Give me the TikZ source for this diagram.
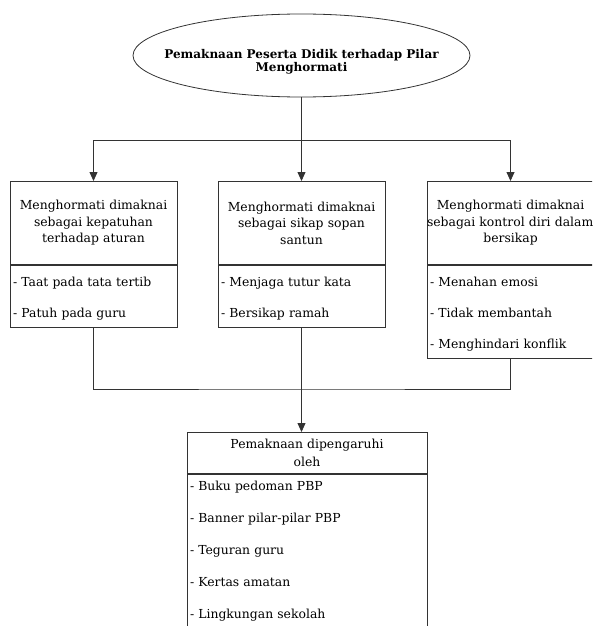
\documentclass[tikz,border=0pt]{standalone}
\usepackage{fontspec}
\setmainfont{DejaVu Serif}
\usetikzlibrary{arrows.meta,positioning,shapes.geometric}

\begin{document}
\begin{tikzpicture}
[x=1pt, y=-1pt, font=\fontsize{12.4}{16.5}\selectfont,
% STYLES
line/.style={draw=black!80, line width=0.8pt},
arrow/.style={line, -{Triangle[width=8pt,length=9pt]}},
% The theme style is used for the ellipse on top
theme/.style={ellipse, draw=black!80, line width=0.8pt, minimum width=337pt, minimum height=83pt, inner sep=0pt},
% The head style is used for the meaning written in each box
head/.style={rectangle, draw=black!80, line width=0.8pt, text width=161pt, minimum width=167pt, minimum height=83pt, inner xsep=3pt, inner ysep=0pt, align=center},
% The items style is used for the list below each head
items/.style={rectangle, draw=black!80, line width=0.8pt, text width=161pt, minimum width=167pt, inner xsep=3pt, inner ysep=0pt, align=left, font=\fontsize{12.4}{31}\selectfont}]

\clip (0,0) rectangle (592,626);

% Draw the theme
\node [theme] (theme) at (301.5,55.5) {};
\node [font=\bfseries\fontsize{12}{13}\selectfont, align=center] (theme-text) at (301.5,62) {Pemaknaan Peserta Didik terhadap Pilar\\ Menghormati};

% Draw the meanings
\node [head, anchor=north] (obey) at (93.5,181) {Menghormati dimaknai\\ sebagai kepatuhan\\ terhadap aturan};
\node [head, anchor=north] (polite) at (301.5,181) {Menghormati dimaknai\\ sebagai sikap sopan\\ santun};
\node [head, anchor=north] (control) at (510.5,181) {Menghormati dimaknai\\ \hspace*{-3pt}\mbox{sebagai kontrol diri dalam}\\ bersikap};

%%%%%%%%%%%%%%%
% Lists of each meaning
\node [items, below=0pt of obey] (obey-list) {\strut- Taat pada tata tertib\\ \strut- Patuh pada guru};
\node [items, below=0pt of polite] (polite-list) {\strut- Menjaga tutur kata\\ \strut- Bersikap ramah};
\node [items, below=0pt of control] (control-list) {\strut- Menahan emosi\\ \strut- Tidak membantah\\ \strut- Menghindari konflik};

% influence
\node [head, anchor=north, text width=170pt, minimum width=240pt, minimum height=41pt, font=\fontsize{12.4}{18}\selectfont] (influence) at (307,432) {Pemaknaan dipengaruhi\\ oleh};
\node [items, below=0pt of influence, text width=234pt, minimum width=240pt, font=\fontsize{12.4}{32}\selectfont] (influence-list) {\rule{0pt}{16pt}- Buku pedoman PBP\\ - Banner pilar-pilar PBP\\ - Teguran guru\\ - Kertas amatan\\ - Lingkungan sekolah\rule[-20pt]{0pt}{20pt}};
%%%%%%%%%%%%%%%

% Draw the links
\coordinate (split) at (301.5,140);
\coordinate (join) at (301.5,389);
\draw [line] (theme.south) -- (split);
\draw [arrow] (split) -| (obey.north);
\draw [arrow] (split) -- (polite.north);
\draw [arrow] (split) -| (control.north);
\draw [line] (obey-list.south) |- (join) -| (control-list.south);
\draw [arrow] (polite-list.south) -- (polite-list.south |- influence.north);

\end{tikzpicture}
\end{document}
